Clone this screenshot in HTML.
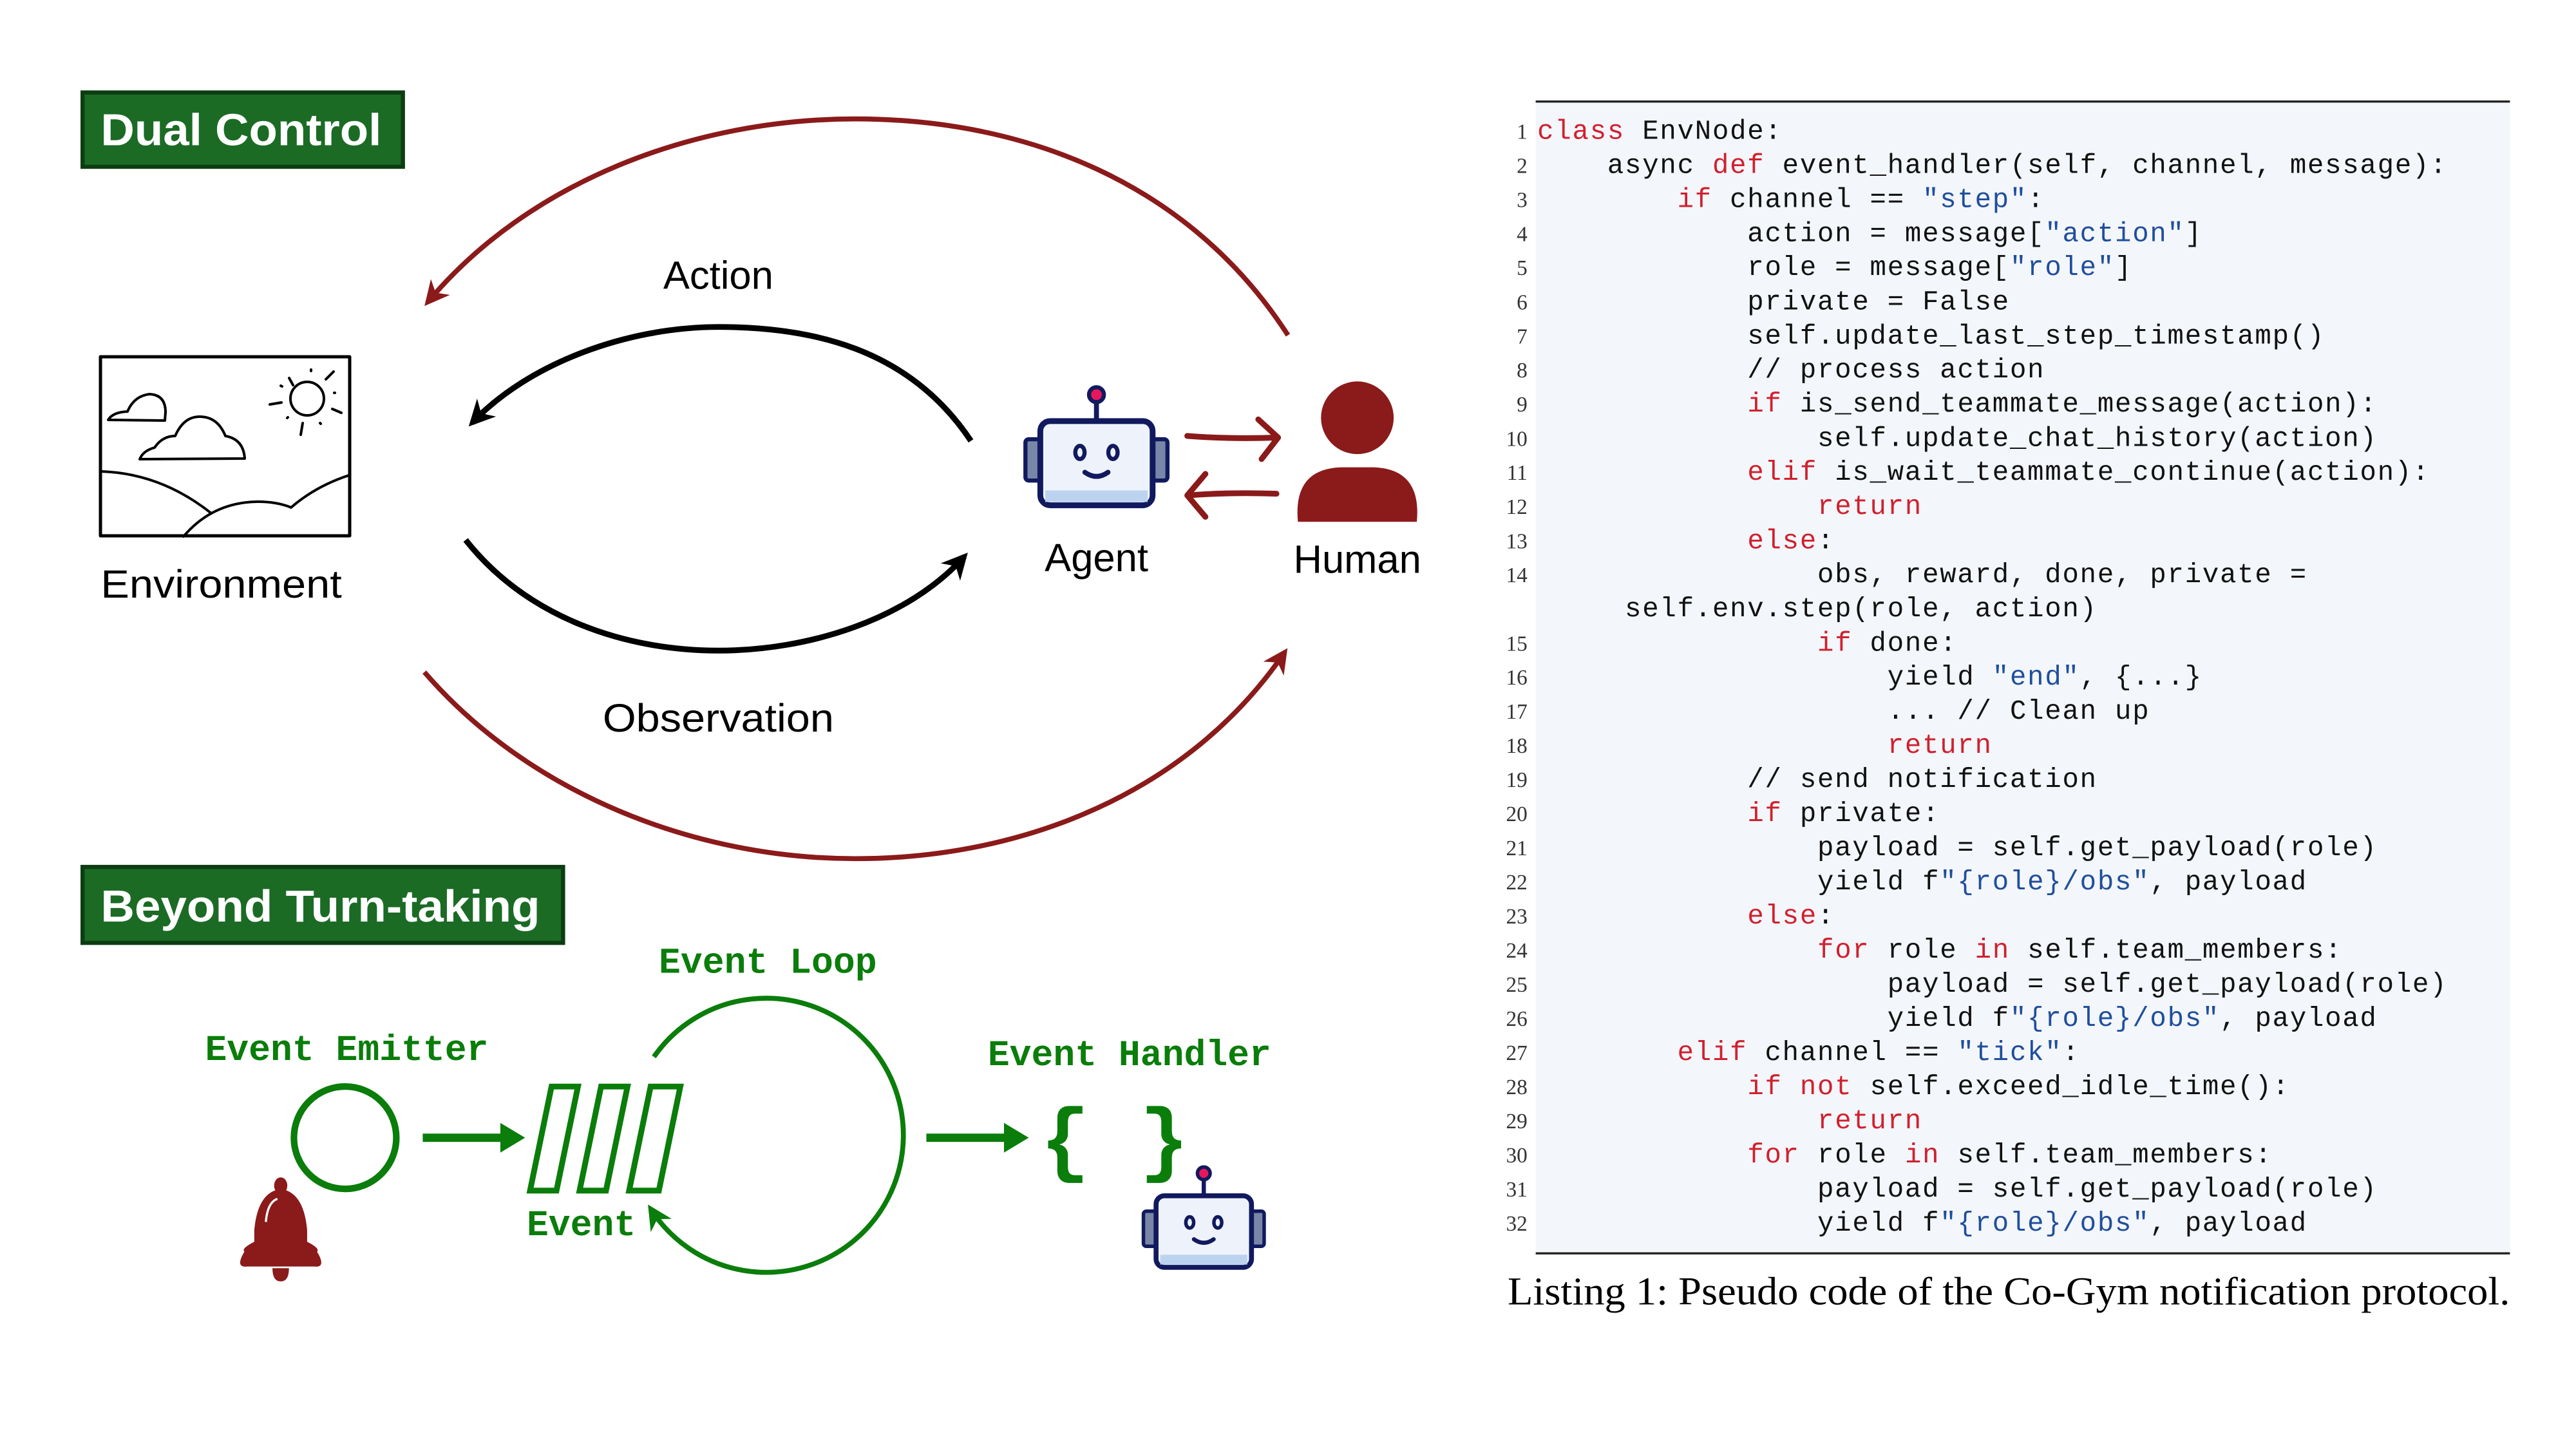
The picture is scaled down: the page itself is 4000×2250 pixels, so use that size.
<!DOCTYPE html>
<html><head><meta charset="utf-8"><style>html,body{margin:0;padding:0;background:#fff}svg{display:block}.code text{white-space:pre}</style></head>
<body>
<svg width="4000" height="2250" viewBox="0 0 1560 877.5" xmlns="http://www.w3.org/2000/svg">
<defs>
<marker id="mr" viewBox="0 0 10 10" refX="8" refY="5" markerWidth="5" markerHeight="5" orient="auto"><path d="M0,0 L10,5 L0,10 L3,5 Z" fill="#8b1a1a"/></marker>
<marker id="mb" viewBox="0 0 10 10" refX="8" refY="5" markerWidth="4.5" markerHeight="4.5" orient="auto"><path d="M0,0 L10,5 L0,10 L3,5 Z" fill="#000"/></marker>
<marker id="mg" viewBox="0 0 10 10" refX="8" refY="5" markerWidth="5" markerHeight="5" orient="auto"><path d="M0,0 L10,5 L0,10 L3,5 Z" fill="#0a7d0a"/></marker>
</defs>

<rect x="50" y="56" width="194" height="45" fill="#1b6b25" stroke="#0c3d12" stroke-width="2.5"/>
<text x="61" y="88" font-family="Liberation Sans, sans-serif" font-weight="bold" font-size="27" fill="#fff" textLength="170" lengthAdjust="spacingAndGlyphs">Dual Control</text>

<g transform="scale(0.39)" fill="none" stroke="#000" stroke-width="4" stroke-linecap="round" stroke-linejoin="round">
<rect x="156" y="554" width="387" height="278" stroke-width="5"/>
<path d="M168,652 Q175,640 198,639 Q208,615 232,612 Q257,613 257,640 L256,653 Z"/>
<path d="M217,713 Q222,700 240,695 Q252,677 272,677 Q285,647 310,647 Q338,647 350,677 Q378,682 380,712 Z"/>
<circle cx="477" cy="619" r="26"/>
<path d="M449,587 L455,598 M483,574 L483,576 M518,577 L506,589 M519,610 L520,610 M530,641 L516,635 M497,657 L498,658 M470,657 L467,675 M446,649 L447,648 M419,628 L437,625 M436,599 L438,600"/>
<path d="M157,732 Q250,735 328,797"/>
<path d="M285,833 Q330,780 400,779 Q430,779 452,788 Q490,755 542,738"/>
</g>
<text x="134" y="362" text-anchor="middle" font-family="Liberation Sans, sans-serif" font-size="24" fill="#000" textLength="146" lengthAdjust="spacingAndGlyphs">Environment</text>

<path d="M780,203 C720,110 620,72 518,72 C420,72 320,110 259,183" fill="none" stroke="#8b1a1a" stroke-width="3" marker-end="url(#mr)"/>
<path d="M257,407 C320,480 420,520 518,520 C620,520 720,480 778,395" fill="none" stroke="#8b1a1a" stroke-width="3" marker-end="url(#mr)"/>
<path d="M588,267 C550,210 490,198 435,198 C380,198 320,220 286,256" fill="none" stroke="#000" stroke-width="3.5" marker-end="url(#mb)"/>
<path d="M282,327 C320,375 380,394 435,394 C490,394 550,375 584,337" fill="none" stroke="#000" stroke-width="3.5" marker-end="url(#mb)"/>
<text x="435" y="175" text-anchor="middle" font-family="Liberation Sans, sans-serif" font-size="24">Action</text>
<text x="435" y="443" text-anchor="middle" font-family="Liberation Sans, sans-serif" font-size="24" textLength="140" lengthAdjust="spacingAndGlyphs">Observation</text>

<g transform="translate(664,276)">
<line x1="0" y1="-22" x2="0" y2="-35" stroke="#111a5e" stroke-width="3"/>
<circle cx="0" cy="-37" r="4.5" fill="#e8175d" stroke="#111a5e" stroke-width="2.5"/>
<rect x="-43" y="-10" width="10" height="25" rx="2" fill="#7a86a8" stroke="#111a5e" stroke-width="2.5"/>
<rect x="33" y="-10" width="10" height="25" rx="2" fill="#7a86a8" stroke="#111a5e" stroke-width="2.5"/>
<rect x="-34" y="-21" width="68" height="51" rx="6" fill="#eef3fb" stroke="#111a5e" stroke-width="3.5"/>
<rect x="-31" y="21" width="62" height="7" fill="#bcd3f0"/>
<ellipse cx="-10" cy="-2" rx="2.8" ry="4" fill="none" stroke="#111a5e" stroke-width="2.5"/>
<ellipse cx="10" cy="-2" rx="2.8" ry="4" fill="none" stroke="#111a5e" stroke-width="2.5"/>
<path d="M-7,10 Q0,15 7,10" fill="none" stroke="#111a5e" stroke-width="3" stroke-linecap="round"/>
</g>
<text x="664" y="346" text-anchor="middle" font-family="Liberation Sans, sans-serif" font-size="24">Agent</text>

<ellipse cx="822" cy="253" rx="22" ry="22" fill="#8b1a1a"/>
<path d="M786,316 Q783,284 812,283 L832,283 Q861,284 858,316 Z" fill="#8b1a1a"/>
<text x="822" y="347" text-anchor="middle" font-family="Liberation Sans, sans-serif" font-size="24">Human</text>
<g fill="none" stroke="#8b1a1a" stroke-width="3.5" stroke-linecap="round" stroke-linejoin="round">
<path d="M719,264 Q745,266 773,265 M762,254 L774,265 L764,278"/>
<path d="M773,299 Q745,298 719,300 M730,287 L719,300 L730,313"/>
</g>

<rect x="50" y="525" width="291" height="46" fill="#1b6b25" stroke="#0c3d12" stroke-width="2.5"/>
<text x="61" y="558" font-family="Liberation Sans, sans-serif" font-weight="bold" font-size="27" fill="#fff" textLength="266" lengthAdjust="spacingAndGlyphs">Beyond Turn-taking</text>

<g font-family="Liberation Mono, monospace" font-weight="bold" font-size="22" fill="#0a7d0a">
<text x="465" y="589" text-anchor="middle">Event Loop</text>
<text x="210" y="642" text-anchor="middle">Event Emitter</text>
<text x="684" y="645" text-anchor="middle">Event Handler</text>
<text x="352" y="748" text-anchor="middle">Event</text>
</g>
<circle cx="209" cy="689" r="31" fill="none" stroke="#0a7d0a" stroke-width="4"/>
<line x1="256" y1="689" x2="305" y2="689" stroke="#0a7d0a" stroke-width="5"/>
<path d="M303,680 L318,689 L303,698 Z" fill="#0a7d0a"/>
<g fill="none" stroke="#0a7d0a" stroke-width="3.5">
<path d="M334,658 L350,658 L337,721 L321,721 Z"/>
<path d="M364,658 L380,658 L367,721 L351,721 Z"/>
<path d="M394,658 L412,658 L399,721 L381,721 Z"/>
</g>
<path d="M396,640 A 83 83 0 1 1 394,732" fill="none" stroke="#0a7d0a" stroke-width="3" marker-end="url(#mg)"/>
<line x1="561" y1="689" x2="610" y2="689" stroke="#0a7d0a" stroke-width="5"/>
<path d="M608,680 L623,689 L608,698 Z" fill="#0a7d0a"/>
<text x="675" y="706" text-anchor="middle" font-family="Liberation Mono, monospace" font-weight="bold" font-size="50" fill="#0a7d0a">{ }</text>

<g transform="translate(729,742) scale(0.85)">
<line x1="0" y1="-22" x2="0" y2="-35" stroke="#111a5e" stroke-width="3"/>
<circle cx="0" cy="-37" r="4.5" fill="#e8175d" stroke="#111a5e" stroke-width="2.5"/>
<rect x="-43" y="-10" width="10" height="25" rx="2" fill="#7a86a8" stroke="#111a5e" stroke-width="2.5"/>
<rect x="33" y="-10" width="10" height="25" rx="2" fill="#7a86a8" stroke="#111a5e" stroke-width="2.5"/>
<rect x="-34" y="-21" width="68" height="51" rx="6" fill="#eef3fb" stroke="#111a5e" stroke-width="3.5"/>
<rect x="-31" y="21" width="62" height="7" fill="#bcd3f0"/>
<ellipse cx="-10" cy="-2" rx="2.8" ry="4" fill="none" stroke="#111a5e" stroke-width="2.5"/>
<ellipse cx="10" cy="-2" rx="2.8" ry="4" fill="none" stroke="#111a5e" stroke-width="2.5"/>
<path d="M-7,10 Q0,15 7,10" fill="none" stroke="#111a5e" stroke-width="3" stroke-linecap="round"/>
</g>

<g fill="#8b1a1a">
<ellipse cx="170" cy="718" rx="4" ry="5"/>
<path d="M170,720 Q156,722 154,745 L154,752 Q146,756 148,758 Q142,768 150,767 L190,767 Q198,768 192,758 Q194,756 186,752 L186,745 Q184,722 170,720 Z"/>
<path d="M165,768 L175,768 Q175,776 170,776 Q165,776 165,768 Z"/>
</g>
<path d="M161,740 Q162,728 168,726" fill="none" stroke="#fff" stroke-width="1.3"/>

<rect x="930" y="62" width="590" height="696" fill="#f3f6fa"/>
<line x1="930" y1="61.5" x2="1520" y2="61.5" stroke="#222" stroke-width="1.3"/>
<line x1="930" y1="759" x2="1520" y2="759" stroke="#222" stroke-width="1.3"/>
<g font-family="Liberation Serif, serif" font-size="13" fill="#333" text-anchor="end">
<text x="925" y="84">1</text><text x="925" y="104.7">2</text><text x="925" y="125.3">3</text><text x="925" y="146">4</text><text x="925" y="166.6">5</text><text x="925" y="187.3">6</text><text x="925" y="208">7</text><text x="925" y="228.6">8</text><text x="925" y="249.3">9</text><text x="925" y="270">10</text><text x="925" y="290.6">11</text><text x="925" y="311.3">12</text><text x="925" y="332">13</text><text x="925" y="352.6">14</text>
<text x="925" y="394">15</text><text x="925" y="414.6">16</text><text x="925" y="435.3">17</text><text x="925" y="456">18</text><text x="925" y="476.6">19</text><text x="925" y="497.3">20</text><text x="925" y="518">21</text><text x="925" y="538.6">22</text><text x="925" y="559.3">23</text><text x="925" y="580">24</text><text x="925" y="600.6">25</text><text x="925" y="621.3">26</text><text x="925" y="642">27</text><text x="925" y="662.6">28</text><text x="925" y="683.3">29</text><text x="925" y="704">30</text><text x="925" y="724.6">31</text><text x="925" y="745.3">32</text>
</g>
<g class="code" font-family="Liberation Mono, monospace" font-size="16.5" letter-spacing="0.7" fill="#111">
<text x="931" y="84"><tspan fill="#d0202e">class</tspan> EnvNode:</text>
<text x="931" y="104.7">    async <tspan fill="#d0202e">def</tspan> event_handler(self, channel, message):</text>
<text x="931" y="125.3">        <tspan fill="#d0202e">if</tspan> channel == <tspan fill="#1f4e9c">"step"</tspan>:</text>
<text x="931" y="146">            action = message[<tspan fill="#1f4e9c">"action"</tspan>]</text>
<text x="931" y="166.6">            role = message[<tspan fill="#1f4e9c">"role"</tspan>]</text>
<text x="931" y="187.3">            private = False</text>
<text x="931" y="208">            self.update_last_step_timestamp()</text>
<text x="931" y="228.6">            // process action</text>
<text x="931" y="249.3">            <tspan fill="#d0202e">if</tspan> is_send_teammate_message(action):</text>
<text x="931" y="270">                self.update_chat_history(action)</text>
<text x="931" y="290.6">            <tspan fill="#d0202e">elif</tspan> is_wait_teammate_continue(action):</text>
<text x="931" y="311.3">                <tspan fill="#d0202e">return</tspan></text>
<text x="931" y="332">            <tspan fill="#d0202e">else</tspan>:</text>
<text x="931" y="352.6">                obs, reward, done, private =</text>
<text x="931" y="373.3">     self.env.step(role, action)</text>
<text x="931" y="394">                <tspan fill="#d0202e">if</tspan> done:</text>
<text x="931" y="414.6">                    yield <tspan fill="#1f4e9c">"end"</tspan>, {...}</text>
<text x="931" y="435.3">                    ... // Clean up</text>
<text x="931" y="456">                    <tspan fill="#d0202e">return</tspan></text>
<text x="931" y="476.6">            // send notification</text>
<text x="931" y="497.3">            <tspan fill="#d0202e">if</tspan> private:</text>
<text x="931" y="518">                payload = self.get_payload(role)</text>
<text x="931" y="538.6">                yield f<tspan fill="#1f4e9c">"{role}/obs"</tspan>, payload</text>
<text x="931" y="559.3">            <tspan fill="#d0202e">else</tspan>:</text>
<text x="931" y="580">                <tspan fill="#d0202e">for</tspan> role <tspan fill="#d0202e">in</tspan> self.team_members:</text>
<text x="931" y="600.6">                    payload = self.get_payload(role)</text>
<text x="931" y="621.3">                    yield f<tspan fill="#1f4e9c">"{role}/obs"</tspan>, payload</text>
<text x="931" y="642">        <tspan fill="#d0202e">elif</tspan> channel == <tspan fill="#1f4e9c">"tick"</tspan>:</text>
<text x="931" y="662.6">            <tspan fill="#d0202e">if not</tspan> self.exceed_idle_time():</text>
<text x="931" y="683.3">                <tspan fill="#d0202e">return</tspan></text>
<text x="931" y="704">            <tspan fill="#d0202e">for</tspan> role <tspan fill="#d0202e">in</tspan> self.team_members:</text>
<text x="931" y="724.6">                payload = self.get_payload(role)</text>
<text x="931" y="745.3">                yield f<tspan fill="#1f4e9c">"{role}/obs"</tspan>, payload</text>
</g>
<text x="913" y="790" font-family="Liberation Serif, serif" font-size="24" fill="#000" textLength="607" lengthAdjust="spacingAndGlyphs">Listing 1: Pseudo code of the Co-Gym notification protocol.</text>
</svg>
</body></html>
